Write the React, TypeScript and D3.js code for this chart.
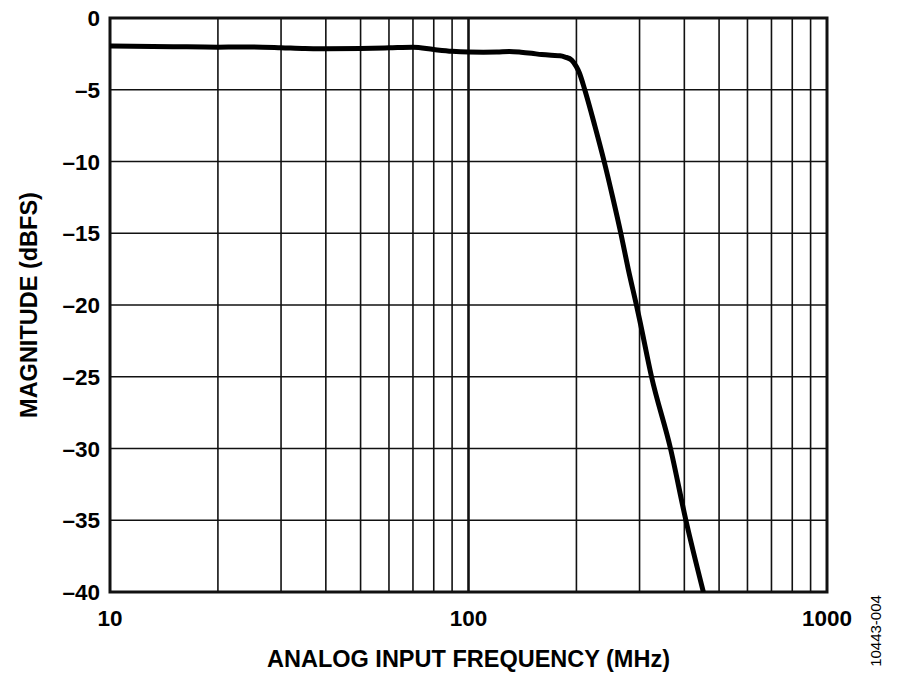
import React, { useEffect, useRef } from 'react';
import * as d3 from 'd3';

// frequency response
const freqMHz = [
    10, 15, 20, 25, 30, 35, 40, 50, 60, 70, 80, 90, 100, 110, 120, 130, 140, 150,
    160, 170, 180, 186, 194, 200, 204, 211, 225, 239, 252.5, 266, 279, 294, 300, 324, 366, 404, 452
];
const magnitudeDb = [
    -1.95, -2.0, -2.03, -2.02, -2.07, -2.13, -2.14, -2.12, -2.08, -2.04, -2.2, -2.32, -2.37, -2.38, -2.37, -2.33, -2.38, -2.46,
    -2.55, -2.6, -2.63, -2.72, -2.93, -3.4, -3.85, -5.0, -7.5, -10, -12.5, -15, -17.5, -20, -21, -25, -30, -35, -40
];

const xMajorTicks = [10, 100, 1000];
const xMinorTicks = [20, 30, 40, 50, 60, 70, 80, 90, 200, 300, 400, 500, 600, 700, 800, 900];
const yTicks = [0, -5, -10, -15, -20, -25, -30, -35, -40];

const xTitle = 'ANALOG INPUT FREQUENCY (MHz)';
const yTitle = 'MAGNITUDE (dBFS)';
const figureId = '10443-004';

const W = 900;
const H = 684;
const FONT = '"Liberation Sans", Arial, Helvetica, sans-serif';

const FrequencyResponseChart: React.FC = () => {
    const ref = useRef<HTMLDivElement>(null);

    useEffect(() => {
        if (!ref.current) return;

        const svg = d3.select(ref.current)
            .append('svg')
            .attr('width', W)
            .attr('height', H)
            .style('position', 'absolute')
            .style('left', 0)
            .style('top', 0)
            .style('background', '#fff');

        const margin = { top: 18, right: 73, bottom: 92, left: 110 };

        const x = d3.scaleLog()
            .domain([10, 1000])
            .range([margin.left, W - margin.right]);

        const y = d3.scaleLinear()
            .domain([-40, 0])
            .range([H - margin.bottom, margin.top]);

        const grid = svg.append('g');

        // vertical grid
        grid.selectAll('line.vminor')
            .data(xMinorTicks)
            .enter()
            .append('line')
                .attr('x1', (d) => x(d))
                .attr('x2', (d) => x(d))
                .attr('y1', y(0))
                .attr('y2', y(-40))
                .attr('stroke', '#111')
                .attr('stroke-width', 1.6);

        grid.append('line')
            .attr('x1', x(100))
            .attr('x2', x(100))
            .attr('y1', y(0))
            .attr('y2', y(-40))
            .attr('stroke', '#111')
            .attr('stroke-width', 2.6);

        // horizontal grid
        grid.selectAll('line.h')
            .data(yTicks)
            .enter()
            .append('line')
                .attr('x1', x(10))
                .attr('x2', x(1000))
                .attr('y1', (d) => y(d))
                .attr('y2', (d) => y(d))
                .attr('stroke', '#111')
                .attr('stroke-width', 1.6);

        // frame
        svg.append('rect')
            .attr('x', x(10))
            .attr('y', y(0))
            .attr('width', x(1000) - x(10))
            .attr('height', y(-40) - y(0))
            .attr('fill', 'none')
            .attr('stroke', '#111')
            .attr('stroke-width', 3);

        const points: [number, number][] = freqMHz.map((f, i) => [f, magnitudeDb[i]]);

        const line = d3.line<[number, number]>()
            .x((d) => x(d[0]))
            .y((d) => y(d[1]))
            .curve(d3.curveMonotoneX);

        svg.append('defs')
            .append('clipPath')
            .attr('id', 'plot-clip')
            .append('rect')
                .attr('x', x(10))
                .attr('y', y(0))
                .attr('width', x(1000) - x(10))
                .attr('height', y(-40) - y(0));

        svg.append('path')
            .datum(points)
            .attr('d', line)
            .attr('fill', 'none')
            .attr('stroke', '#000')
            .attr('stroke-width', 5)
            .attr('stroke-linejoin', 'round')
            .attr('clip-path', 'url(#plot-clip)');

        // y tick labels
        svg.append('g')
            .selectAll('text')
            .data(yTicks)
            .enter()
            .append('text')
                .attr('x', margin.left - 10)
                .attr('y', (d) => y(d))
                .attr('dy', '0.36em')
                .attr('text-anchor', 'end')
                .style('font-family', FONT)
                .style('font-weight', 'bold')
                .style('font-size', '22.5px')
                .text((d) => (d < 0 ? '\u2013' + Math.abs(d) : String(d)));

        // x tick labels
        svg.append('g')
            .selectAll('text')
            .data(xMajorTicks)
            .enter()
            .append('text')
                .attr('x', (d) => x(d))
                .attr('y', y(-40) + 34)
                .attr('text-anchor', 'middle')
                .style('font-family', FONT)
                .style('font-weight', 'bold')
                .style('font-size', '22.5px')
                .text((d) => String(d));

        svg.append('text')
            .attr('x', x(100))
            .attr('y', 667)
            .attr('text-anchor', 'middle')
            .style('font-family', FONT)
            .style('font-weight', 'bold')
            .style('font-size', '23.5px')
            .text(xTitle);

        svg.append('text')
            .attr('transform', `translate(37, ${(y(0) + y(-40)) / 2}) rotate(-90)`)
            .attr('text-anchor', 'middle')
            .style('font-family', FONT)
            .style('font-weight', 'bold')
            .style('font-size', '23.5px')
            .text(yTitle);

        svg.append('text')
            .attr('transform', `translate(881, 631) rotate(-90)`)
            .attr('text-anchor', 'middle')
            .style('font-family', FONT)
            .style('font-size', '15px')
            .text(figureId);

        return () => {
            svg.remove();
        };
    }, []);

    return <div ref={ref}></div>;
};

export default function App() {
    return <FrequencyResponseChart />;
}
